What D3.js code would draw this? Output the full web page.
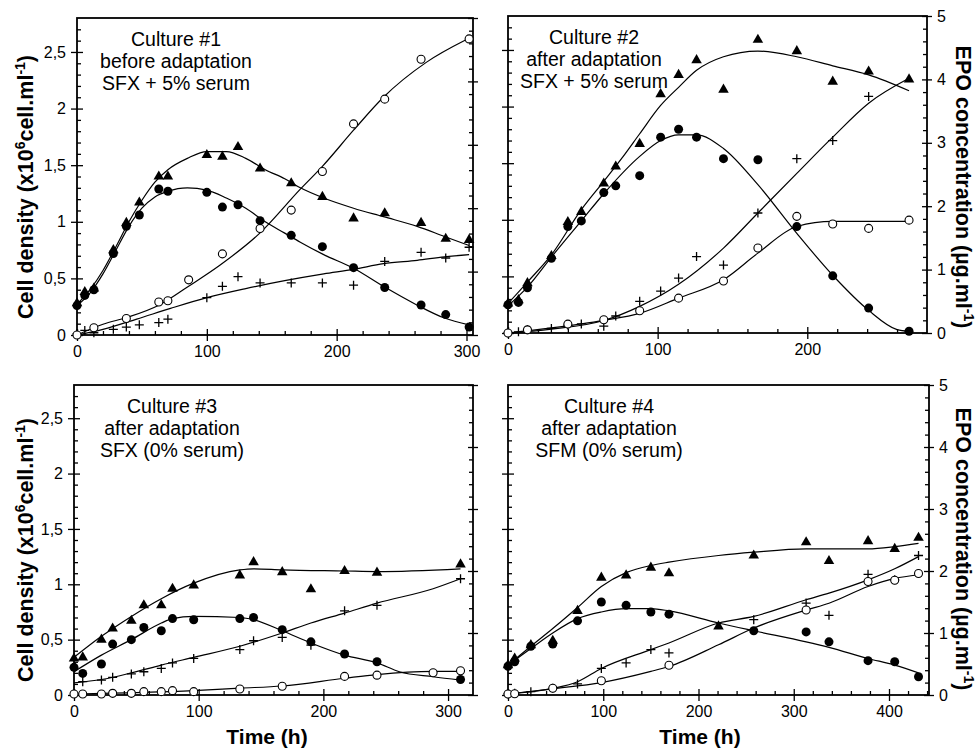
<!DOCTYPE html>
<html>
<head>
<meta charset="utf-8">
<script src="https://cdn.jsdelivr.net/npm/d3@7"></script>
<style>
  body { margin: 0; background: #fff; }
  svg { display: block; }
</style>
</head>
<body>
<svg id="chart" width="980" height="750"></svg>
<script>
// ---- data ----
// total cells = filled triangles, viable cells = filled circles, dead cells = plus (x10^6 cell/ml)
// EPO = open circles (ug/ml, right axis)
// a null means no point at that time

var leftTicks = [0, 0.5, 1, 1.5, 2, 2.5];
var rightTicks = [0, 1, 2, 3, 4, 5];

// Culture #1
var p1Time   = [0, 6, 13, 28, 38, 48, 63, 70, 86, 100, 112, 124, 141, 165, 189, 213, 237, 265, 284, 302];
var p1Total  = [0.28, 0.38, 0.41, 0.75, 0.99, 1.17, 1.40, 1.40, null, 1.59, 1.575, 1.66, 1.47, 1.34, 1.22, 1.03, 1.075, 0.99, 0.85, 0.84];
var p1Viable = [0.26, 0.35, 0.40, 0.72, 0.96, 1.06, 1.29, 1.27, null, 1.26, 1.13, 1.15, 1.01, 0.88, 0.78, 0.595, 0.42, 0.265, 0.18, 0.07];
var p1Dead   = [0.01, 0.04, 0.02, 0.05, 0.07, 0.09, 0.11, 0.14, null, 0.33, 0.43, 0.515, 0.46, 0.46, 0.46, 0.44, 0.65, 0.73, 0.68, 0.775];
var p1Epo    = [0, null, 0.115, null, 0.26, null, 0.52, 0.54, 0.87, null, 1.28, null, 1.68, 1.97, 2.58, 3.33, 3.72, 4.35, null, 4.67];
var p1TotalFit  = [[0,0.27],[10,0.40],[20,0.57],[30,0.78],[40,1.00],[50,1.19],[60,1.35],[70,1.46],[85,1.56],[100,1.62],[115,1.62],[130,1.56],[145,1.46],[160,1.38],[172,1.30],[190,1.21],[213,1.12],[236,1.045],[262,0.96],[283,0.87],[302,0.79]];
var p1ViableFit = [[0,0.26],[10,0.37],[20,0.54],[30,0.75],[40,0.96],[50,1.12],[60,1.22],[70,1.27],[85,1.30],[100,1.28],[115,1.21],[130,1.12],[145,1.00],[160,0.90],[172,0.82],[190,0.71],[213,0.59],[236,0.43],[261,0.27],[283,0.15],[302,0.09]];
var p1DeadFit   = [[0,0],[20,0.05],[46,0.14],[72,0.235],[100,0.33],[130,0.41],[160,0.48],[190,0.54],[213,0.58],[236,0.63],[262,0.66],[283,0.69],[302,0.71]];
var p1EpoFit    = [[0,0],[20,0.17],[39,0.28],[63,0.47],[86,0.77],[110,1.10],[141,1.61],[172,2.30],[189,2.66],[213,3.23],[236,3.75],[269,4.30],[300,4.66]];
var p1Text = ["Culture #1", "before adaptation", "SFX + 5% serum"];
var p1TimeTicks = [0, 100, 200, 300];

// Culture #2
var p2Time   = [0, 7, 13, 29, 40, 49, 64, 72, 88, 102, 114, 126, 144, 167, 193, 217, 241, 268];
var p2Total  = [0.26, 0.29, 0.44, 0.68, 0.98, 1.07, 1.32, 1.47, 1.67, 2.11, 2.28, 2.41, 2.15, 2.59, 2.49, 2.22, 2.31, 2.24];
var p2Viable = [0.25, 0.27, 0.40, 0.66, 0.94, 0.99, 1.24, 1.30, 1.39, 1.73, 1.80, 1.73, 1.54, 1.53, 0.94, 0.505, 0.22, 0.015];
var p2Dead   = [0, 0.01, 0.03, 0.04, 0.07, 0.08, 0.06, 0.15, 0.28, 0.37, 0.485, 0.675, 0.60, 1.06, 1.54, 1.70, 2.09, null];
var p2Epo    = [0, null, 0.05, null, 0.14, null, 0.21, null, 0.35, null, 0.55, null, 0.82, 1.34, 1.84, 1.72, 1.65, 1.78];
var p2TotalFit  = [[0,0.26],[13,0.45],[29,0.69],[49,1.09],[64,1.34],[77,1.56],[88,1.76],[102,2.01],[114,2.17],[126,2.32],[144,2.44],[167,2.49],[193,2.44],[217,2.36],[241,2.28],[268,2.14]];
var p2ViableFit = [[0,0.24],[13,0.405],[29,0.67],[49,0.99],[64,1.23],[88,1.56],[102,1.70],[114,1.75],[126,1.75],[144,1.63],[167,1.31],[193,0.88],[217,0.51],[241,0.20],[260,0.03],[268,0.015]];
var p2DeadFit   = [[0,0],[29,0.035],[64,0.11],[88,0.235],[114,0.43],[144,0.75],[167,1.06],[193,1.41],[217,1.73],[241,2.03],[268,2.25]];
var p2EpoFit    = [[0,0],[29,0.08],[64,0.20],[88,0.31],[114,0.55],[144,0.84],[167,1.26],[193,1.68],[217,1.76],[241,1.76],[268,1.76]];
var p2Text = ["Culture #2", "after adaptation", "SFX + 5% serum"];
var p2TimeTicks = [0, 100, 200];

// Culture #3
var p3Time   = [0, 7, 22, 31, 46, 56, 70, 79, 96, 133, 144, 167, 190, 217, 243, 288, 310];
var p3Total  = [0.33, 0.34, 0.50, 0.60, 0.67, 0.81, 0.81, 0.96, 0.99, 1.08, 1.20, 1.11, 0.955, 1.12, 1.105, null, 1.18];
var p3Viable = [0.25, 0.195, 0.28, 0.46, 0.50, 0.61, 0.58, 0.69, 0.68, 0.69, 0.70, 0.59, 0.48, 0.37, 0.30, null, 0.14];
var p3Dead   = [null, 0.12, 0.135, 0.16, 0.19, 0.21, 0.24, 0.29, 0.33, 0.41, 0.49, 0.52, 0.45, 0.76, 0.81, null, 1.05];
var p3Epo    = [0.016, 0.016, 0.016, 0.027, 0.027, 0.054, 0.054, 0.07, 0.054, 0.097, null, 0.14, null, 0.30, 0.32, 0.36, 0.39];
var p3TotalFit  = [[0,0.34],[22,0.53],[46,0.71],[70,0.87],[96,1.01],[133,1.13],[144,1.14],[167,1.13],[217,1.12],[243,1.115],[310,1.14]];
var p3ViableFit = [[0,0.21],[22,0.36],[46,0.50],[70,0.65],[79,0.69],[96,0.71],[133,0.70],[144,0.68],[167,0.58],[190,0.47],[217,0.36],[243,0.29],[261,0.21],[288,0.165],[310,0.135]];
var p3DeadFit   = [[0,0.11],[22,0.14],[46,0.20],[70,0.27],[96,0.34],[133,0.44],[167,0.56],[190,0.65],[217,0.74],[243,0.83],[288,0.96],[310,1.05]];
var p3EpoFit    = [[0,0.016],[96,0.07],[133,0.11],[167,0.145],[217,0.27],[243,0.33],[288,0.38],[310,0.38]];
var p3Text = ["Culture #3", "after adaptation", "SFX (0% serum)"];
var p3TimeTicks = [0, 100, 200, 300];

// Culture #4
var p4Time   = [0, 7, 24, 47, 73, 98, 124, 150, 169, 221, 258, 313, 337, 378, 406, 431];
var p4Total  = [0.27, 0.33, 0.45, 0.49, 0.76, 1.06, 1.08, 1.15, 1.10, 0.62, 1.26, 1.38, 1.21, 1.39, 1.32, 1.42];
var p4Viable = [0.26, 0.30, 0.44, 0.46, 0.67, 0.84, 0.81, 0.75, 0.73, null, 0.58, 0.57, 0.48, 0.31, 0.30, 0.165];
var p4Dead   = [0.01, 0.015, 0.03, 0.06, 0.10, 0.24, 0.29, 0.41, 0.38, null, 0.68, 0.83, 0.72, 1.09, 1.04, 1.26];
var p4Epo    = [0.016, 0.02, null, 0.11, null, 0.23, null, null, 0.48, null, null, 1.37, null, 1.83, 1.85, 1.96];
var p4TotalFit  = [[0,0.27],[24,0.44],[47,0.60],[73,0.79],[98,0.98],[124,1.105],[150,1.17],[169,1.20],[221,1.26],[258,1.29],[313,1.32],[337,1.32],[378,1.32],[406,1.34],[431,1.37]];
var p4ViableFit = [[0,0.27],[24,0.42],[47,0.56],[73,0.69],[98,0.75],[124,0.78],[150,0.78],[169,0.76],[221,0.65],[258,0.58],[313,0.48],[337,0.43],[378,0.33],[406,0.27],[431,0.20]];
var p4DeadFit   = [[0,0.01],[47,0.06],[73,0.12],[98,0.24],[150,0.41],[169,0.47],[221,0.65],[258,0.71],[313,0.86],[337,0.92],[378,1.04],[406,1.14],[431,1.25]];
var p4EpoFit    = [[0,0.016],[47,0.10],[98,0.20],[150,0.38],[169,0.46],[221,0.81],[258,1.08],[313,1.37],[337,1.48],[378,1.75],[406,1.88],[431,1.94]];
var p4Text = ["Culture #4", "after adaptation", "SFM (0% serum)"];
var p4TimeTicks = [0, 100, 200, 300, 400];

// ---- layout ----
var font = "'Liberation Sans', Arial, Helvetica, sans-serif";
var svg = d3.select("#chart");

var panels = [
  {left: 77,  right: 473, top: 18,  bottom: 335, tmax: 305, textX: 176,
   time: p1Time, total: p1Total, viable: p1Viable, dead: p1Dead, epo: p1Epo,
   fits: [p1TotalFit, p1ViableFit, p1DeadFit], epoFit: p1EpoFit, text: p1Text, timeTicks: p1TimeTicks,
   leftLabels: true, rightLabels: false},
  {left: 508, right: 927, top: 16,  bottom: 333, tmax: 280, textX: 594,
   time: p2Time, total: p2Total, viable: p2Viable, dead: p2Dead, epo: p2Epo,
   fits: [p2TotalFit, p2ViableFit, p2DeadFit], epoFit: p2EpoFit, text: p2Text, timeTicks: p2TimeTicks,
   leftLabels: false, rightLabels: true},
  {left: 74,  right: 473, top: 385, bottom: 695, tmax: 320, textX: 172,
   time: p3Time, total: p3Total, viable: p3Viable, dead: p3Dead, epo: p3Epo,
   fits: [p3TotalFit, p3ViableFit, p3DeadFit], epoFit: p3EpoFit, text: p3Text, timeTicks: p3TimeTicks,
   leftLabels: true, rightLabels: false},
  {left: 508, right: 929, top: 385, bottom: 695, tmax: 442, textX: 609,
   time: p4Time, total: p4Total, viable: p4Viable, dead: p4Dead, epo: p4Epo,
   fits: [p4TotalFit, p4ViableFit, p4DeadFit], epoFit: p4EpoFit, text: p4Text, timeTicks: p4TimeTicks,
   leftLabels: false, rightLabels: true}
];

function fmt(d) { return String(d).replace(".", ","); }

function addAxis(g, gen, pos, scale, values, size, labels, pad) {
  var a = gen(scale).tickValues(values).tickSize(size).tickPadding(pad || 4)
    .tickFormat(labels ? fmt : "");
  var ag = g.append("g").attr("transform", pos).call(a);
  ag.select(".domain").remove();
  ag.selectAll("line").attr("stroke", "#000").attr("stroke-width", 1.3);
  ag.selectAll("text").attr("font-size", 16).attr("font-family", font).attr("fill", "#000");
  return ag;
}

function drawPanel(p) {
  var x = d3.scaleLinear().domain([0, p.tmax]).range([p.left, p.right]);
  var yL = d3.scaleLinear().domain([0, 2.8]).range([p.bottom, p.top]);
  var yR = d3.scaleLinear().domain([0, 5]).range([p.bottom, p.top]);
  var g = svg.append("g");

  var minorL = d3.range(0, 28).map(function(i) { return i / 10; }).filter(function(v) { return Math.round(v * 10) % 5 != 0; });
  var minorR = d3.range(0, 25).map(function(i) { return i / 5; }).filter(function(v) { return Math.round(v * 5) % 5 != 0; });
  var minorX = d3.range(0, p.tmax, 20).filter(function(v) { return v % 100 != 0; });

  // left axis
  addAxis(g, d3.axisLeft, "translate(" + p.left + ",0)", yL, leftTicks, 6, p.leftLabels, 5);
  addAxis(g, d3.axisRight, "translate(" + p.left + ",0)", yL, leftTicks, 6, false);
  addAxis(g, d3.axisRight, "translate(" + p.left + ",0)", yL, minorL, 4, false);
  // right axis
  addAxis(g, d3.axisRight, "translate(" + p.right + ",0)", yR, rightTicks, 5, p.rightLabels, 5);
  addAxis(g, d3.axisLeft, "translate(" + p.right + ",0)", yR, rightTicks, 5, false);
  addAxis(g, d3.axisLeft, "translate(" + p.right + ",0)", yR, minorR, 4, false);
  // bottom axis
  addAxis(g, d3.axisBottom, "translate(0," + p.bottom + ")", x, p.timeTicks, 6, true, 5);
  addAxis(g, d3.axisTop, "translate(0," + p.bottom + ")", x, p.timeTicks, 6, false);
  addAxis(g, d3.axisTop, "translate(0," + p.bottom + ")", x, minorX, 4, false);

  // frame
  g.append("rect")
    .attr("x", p.left).attr("y", p.top)
    .attr("width", p.right - p.left).attr("height", p.bottom - p.top)
    .attr("fill", "none").attr("stroke", "#000").attr("stroke-width", 1.8);

  // fitted curves
  var lineL = d3.line().x(function(d) { return x(d[0]); }).y(function(d) { return yL(d[1]); }).curve(d3.curveMonotoneX);
  var lineR = d3.line().x(function(d) { return x(d[0]); }).y(function(d) { return yR(d[1]); }).curve(d3.curveMonotoneX);
  p.fits.forEach(function(f) {
    g.append("path").attr("d", lineL(f)).attr("fill", "none").attr("stroke", "#000").attr("stroke-width", 1.2);
  });
  g.append("path").attr("d", lineR(p.epoFit)).attr("fill", "none").attr("stroke", "#000").attr("stroke-width", 1.2);

  function pts(vals) {
    return p.time.map(function(t, i) { return [t, vals[i]]; }).filter(function(d) { return d[1] != null; });
  }

  // dead cells: plus
  g.selectAll(".dead").data(pts(p.dead)).enter().append("path")
    .attr("transform", function(d) { return "translate(" + x(d[0]) + "," + yL(d[1]) + ")"; })
    .attr("d", "M-4.5,0H4.5M0,-4.5V4.5")
    .attr("stroke", "#000").attr("stroke-width", 1.3).attr("fill", "none");

  // EPO: open circles
  g.selectAll(".epo").data(pts(p.epo)).enter().append("circle")
    .attr("cx", function(d) { return x(d[0]); })
    .attr("cy", function(d) { return yR(d[1]); })
    .attr("r", 4).attr("fill", "#fff").attr("stroke", "#000").attr("stroke-width", 1.1);

  // viable: filled circles
  g.selectAll(".viable").data(pts(p.viable)).enter().append("circle")
    .attr("cx", function(d) { return x(d[0]); })
    .attr("cy", function(d) { return yL(d[1]); })
    .attr("r", 4.5).attr("fill", "#000");

  // total: filled triangles
  var tri = d3.symbol().type(d3.symbolTriangle).size(48);
  g.selectAll(".total").data(pts(p.total)).enter().append("path")
    .attr("transform", function(d) { return "translate(" + x(d[0]) + "," + yL(d[1]) + ")"; })
    .attr("d", tri).attr("fill", "#000");

  // culture text
  p.text.forEach(function(s, i) {
    g.append("text").attr("x", p.textX).attr("y", p.top + 28 + i * 22)
      .attr("text-anchor", "middle").attr("font-family", font).attr("font-size", 19.5)
      .text(s);
  });
}

panels.forEach(drawPanel);

// axis titles
function cellLabel(cy) {
  var t = svg.append("text")
    .attr("transform", "translate(25," + cy + ") rotate(-90)")
    .attr("text-anchor", "middle").attr("dy", "0.35em")
    .attr("font-family", font).attr("font-weight", "bold").attr("font-size", 21.5);
  t.append("tspan").text("Cell density (x10");
  t.append("tspan").attr("dy", -8).attr("font-size", 14).text("6");
  t.append("tspan").attr("dy", 8).text("cell.ml");
  t.append("tspan").attr("dy", -8).attr("font-size", 14).text("-1");
  t.append("tspan").attr("dy", 8).text(")");
}
function epoLabel(cy) {
  var t = svg.append("text")
    .attr("transform", "translate(964," + cy + ") rotate(90)")
    .attr("text-anchor", "middle").attr("dy", "0.35em")
    .attr("font-family", font).attr("font-weight", "bold").attr("font-size", 21.5);
  t.append("tspan").text("EPO concentration (\u00b5g.ml");
  t.append("tspan").attr("dy", -8).attr("font-size", 14).text("-1");
  t.append("tspan").attr("dy", 8).text(")");
}
cellLabel(187);
cellLabel(550);
epoLabel(187);
epoLabel(549);

[[267, "Time (h)"], [700, "Time (h)"]].forEach(function(d) {
  svg.append("text").attr("x", d[0]).attr("y", 744)
    .attr("text-anchor", "middle").attr("font-family", font)
    .attr("font-weight", "bold").attr("font-size", 21).text(d[1]);
});
</script>
</body>
</html>
